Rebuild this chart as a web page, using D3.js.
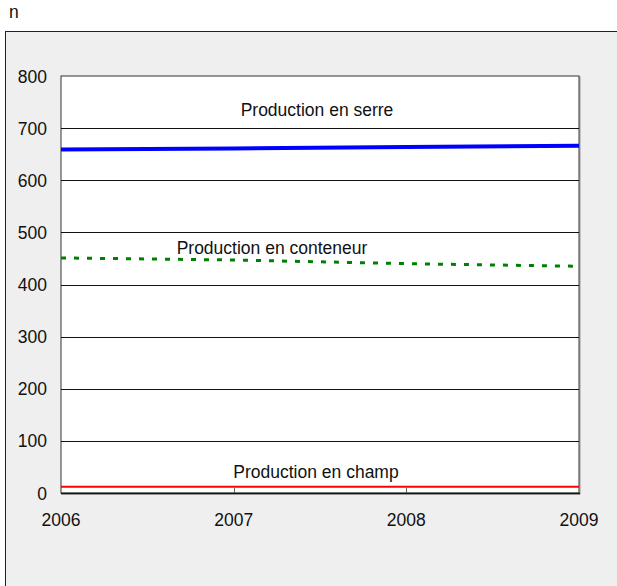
<!DOCTYPE html>
<html>
<head>
<meta charset="utf-8">
<script src="https://cdn.jsdelivr.net/npm/d3@7"></script>
<style>
  body { margin: 0; background: #ffffff; }
  svg { display: block; font-family: "Liberation Sans", Arial, sans-serif; }
</style>
</head>
<body>
<div class="chart"></div>
<script>
const years = [2006, 2007, 2008, 2009];
const serre = [659, 661, 664, 666];
const conteneur = [451, 447, 440, 435];
const champ = [12, 12, 12, 12];
const yTicks = [0, 100, 200, 300, 400, 500, 600, 700, 800];
const seriesNames = ["Production en serre", "Production en conteneur", "Production en champ"];

const width = 617, height = 586;
const plot = {left: 61, right: 579, top: 76, bottom: 493};
const fontSize = 17.5;

const svg = d3.select("div.chart").append("svg")
	.attr("width", width)
	.attr("height", height);

// outer frame
svg.append("rect")
	.attr("x", 5.5).attr("y", 31.5)
	.attr("width", width + 10).attr("height", height)
	.attr("fill", "#efefef")
	.attr("stroke", "#222").attr("stroke-width", 1);

svg.append("text")
	.attr("x", 9).attr("y", 18)
	.attr("font-size", fontSize)
	.attr("fill", "#111")
	.text("n");

const x = d3.scaleLinear().domain([2006, 2009]).range([plot.left, plot.right]);
const y = d3.scaleLinear().domain([0, 800]).range([plot.bottom, plot.top]);

// plot background with faint shadow
svg.append("rect")
	.attr("x", plot.left + 1).attr("y", plot.top + 1)
	.attr("width", plot.right - plot.left).attr("height", plot.bottom - plot.top)
	.attr("fill", "none").attr("stroke", "#999").attr("stroke-width", 1);
svg.append("rect")
	.attr("x", plot.left).attr("y", plot.top)
	.attr("width", plot.right - plot.left).attr("height", plot.bottom - plot.top)
	.attr("fill", "#fff").attr("stroke", "#333").attr("stroke-width", 1);

// horizontal grid
svg.append("g")
	.selectAll("line")
	.data(yTicks.filter(d => d > 0 && d < 800))
	.join("line")
	  .attr("x1", plot.left).attr("x2", plot.right)
	  .attr("y1", d => Math.round(y(d)) + 0.5).attr("y2", d => Math.round(y(d)) + 0.5)
	  .attr("stroke", "#111").attr("stroke-width", 1);

// y labels
svg.append("g")
	.selectAll("text")
	.data(yTicks)
	.join("text")
	  .attr("x", 47).attr("y", d => y(d) + 6.5)
	  .attr("text-anchor", "end")
	  .attr("font-size", fontSize)
	  .attr("fill", "#111")
	  .text(d => d);

// x tick marks inside the plot
svg.append("g")
	.selectAll("line")
	.data(years.slice(1, -1))
	.join("line")
	  .attr("x1", d => Math.round(x(d)) + 0.5).attr("x2", d => Math.round(x(d)) + 0.5)
	  .attr("y1", plot.bottom - 5).attr("y2", plot.bottom)
	  .attr("stroke", "#666");

// x labels
svg.append("g")
	.selectAll("text")
	.data(years)
	.join("text")
	  .attr("x", d => x(d)).attr("y", 526)
	  .attr("text-anchor", "middle")
	  .attr("font-size", fontSize)
	  .attr("fill", "#111")
	  .text(d => d);

// bottom axis line
svg.append("line")
	.attr("x1", plot.left).attr("x2", plot.right + 1)
	.attr("y1", plot.bottom + 0.5).attr("y2", plot.bottom + 0.5)
	.attr("stroke", "#111").attr("stroke-width", 1.5);

const line = d3.line().x((d, i) => x(years[i])).y(d => y(d));

svg.append("path").datum(serre)
	.attr("d", line).attr("fill", "none")
	.attr("stroke", "#0000ff").attr("stroke-width", 4);

svg.append("path").datum(conteneur)
	.attr("d", line).attr("fill", "none")
	.attr("stroke", "#008000").attr("stroke-width", 3)
	.attr("stroke-dasharray", "5 8");

svg.append("path").datum(champ)
	.attr("d", line).attr("fill", "none")
	.attr("stroke", "#ff0000").attr("stroke-width", 2);

// series labels
const labelPos = [[317, 116], [272, 254], [316, 478]];
svg.append("g")
	.selectAll("text")
	.data(seriesNames)
	.join("text")
	  .attr("x", (d, i) => labelPos[i][0]).attr("y", (d, i) => labelPos[i][1])
	  .attr("text-anchor", "middle")
	  .attr("font-size", fontSize)
	  .attr("fill", "#111")
	  .text(d => d);
</script>
</body>
</html>
